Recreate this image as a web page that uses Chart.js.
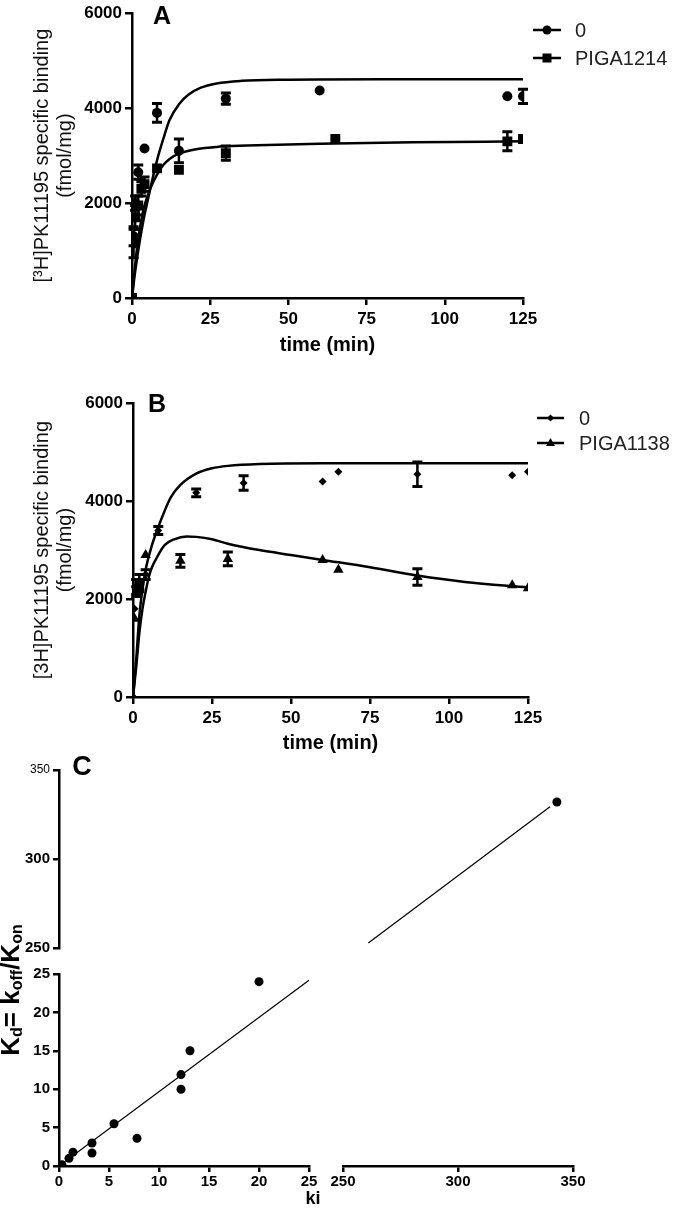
<!DOCTYPE html>
<html><head><meta charset="utf-8">
<script src="https://cdn.jsdelivr.net/npm/chart.js@4.4.1/dist/chart.umd.min.js"></script>
<style>
html,body{margin:0;padding:0;background:#fff;}
body{width:675px;height:1209px;position:relative;overflow:hidden;}
canvas{position:absolute;left:0;}
</style></head><body>
<canvas id="cA" width="675" height="390" style="top:0px"></canvas>
<canvas id="cB" width="675" height="380" style="top:390px"></canvas>
<canvas id="cC" width="675" height="469" style="top:740px"></canvas>
<script>
const FONT = "'Liberation Sans', Arial, Helvetica, sans-serif";

// ---------- Panel A data ----------
const aTicksX = [0, 25, 50, 75, 100, 125];
const aTicksY = [0, 2000, 4000, 6000];
const aLabels = ['0', 'PIGA1214'];
const aT0 = [0, 0.5, 1, 2, 4, 8, 15, 30, 60, 120, 125];
const aY0 = [0, 1300, 2000, 2650, 3150, 3900, 3100, 4200, 4370, 4250, 4250];
const aE0 = [0, 200, 150, 150, 0, 200, 250, 120, 0, 0, 150];
const aTP = [0, 0.5, 1, 2, 3, 4, 8, 15, 30, 65, 120, 125];
const aYP = [0, 1150, 1700, 1950, 2300, 2400, 2730, 2700, 3050, 3350, 3300, 3350];
const aEP = [0, 300, 250, 200, 150, 150, 0, 0, 150, 0, 200, 0];
const aFit0T = [0, 1, 2, 3, 4, 5, 6, 8, 10, 12, 15, 18, 22, 27, 35, 50, 80, 125];
const aFit0Y = [0, 550, 1000, 1400, 1750, 2050, 2350, 2900, 3350, 3750, 4080, 4280, 4430, 4520, 4575, 4600, 4610, 4610];
const aFitPT = [0, 1, 2, 3, 4, 5, 6, 8, 10, 12, 15, 20, 28, 40, 60, 90, 125];
const aFitPY = [0, 700, 1250, 1650, 1950, 2150, 2330, 2600, 2800, 2930, 3040, 3130, 3190, 3220, 3250, 3280, 3300];

// ---------- Panel B data ----------
const bTicksX = [0, 25, 50, 75, 100, 125];
const bTicksY = [0, 2000, 4000, 6000];
const bLabels = ['0', 'PIGA1138'];
const bT0 = [0, 0.5, 1, 2, 4, 8, 20, 35, 60, 65, 90, 120, 125];
const bY0 = [0, 1800, 2150, 2250, 2500, 3400, 4170, 4370, 4400, 4600, 4550, 4530, 4600];
const bE0 = [0, 0, 100, 100, 100, 80, 80, 150, 0, 0, 250, 0, 0];
const bTP = [0, 0.5, 1, 2, 4, 15, 30, 60, 65, 90, 120, 125];
const bYP = [0, 1600, 2250, 2350, 2900, 2780, 2820, 2800, 2600, 2450, 2280, 2220];
const bEP = [0, 0, 150, 150, 0, 130, 140, 0, 0, 170, 0, 0];
const bFit0T = [0, 1, 2, 3, 4, 6, 8, 10, 12, 15, 20, 25, 30, 40, 60, 125];
const bFit0Y = [0, 750, 1650, 2200, 2600, 3100, 3470, 3800, 4080, 4330, 4560, 4670, 4720, 4760, 4775, 4775];
const bFitPT = [0, 1, 2, 3, 4, 5, 6, 8, 10, 13, 17, 20, 25, 30, 40, 50, 60, 75, 90, 105, 125];
const bFitPY = [0, 600, 1300, 1800, 2150, 2450, 2650, 2900, 3100, 3220, 3280, 3270, 3220, 3130, 3000, 2900, 2800, 2650, 2480, 2350, 2240];

// ---------- Panel C data ----------
const cTicksXLow = [0, 5, 10, 15, 20, 25];
const cTicksXHigh = [250, 300, 350];
const cTicksYLow = [0, 5, 10, 15, 20, 25];
const cTicksYHigh = [250, 300, 350];
const cLowX = [0.3, 1.0, 1.4, 3.3, 3.3, 5.5, 7.8, 12.2, 12.2, 13.1, 20.0];
const cLowY = [0.15, 1.0, 1.8, 3.0, 1.7, 5.5, 3.6, 11.9, 10.0, 15.0, 24.0];
const cHighX = [343];
const cHighY = [332];
const cFitLowX = [0.4, 25];
const cFitLowY = [0.4, 24.2];
const cFitHighX = [261, 340];
const cFitHighY = [252.8, 329.3];

function pts(xs, ys) { return xs.map((x, i) => ({x: x, y: ys[i]})); }
function fixedTicks(arr) { return function (scale) { scale.ticks = arr.map(v => ({value: v})); }; }

function drawMarker(ctx, style, x, y, r) {
  ctx.save();
  ctx.fillStyle = '#000';
  ctx.beginPath();
  if (style === 'circle') {
    ctx.arc(x, y, r, 0, Math.PI * 2);
  } else if (style === 'rect') {
    ctx.rect(x - r, y - r, 2 * r, 2 * r);
  } else if (style === 'rectRot') {
    ctx.moveTo(x, y - r); ctx.lineTo(x + r, y); ctx.lineTo(x, y + r); ctx.lineTo(x - r, y); ctx.closePath();
  } else if (style === 'triangle') {
    ctx.moveTo(x, y - r); ctx.lineTo(x + r * 0.9, y + r * 0.6); ctx.lineTo(x - r * 0.9, y + r * 0.6); ctx.closePath();
  }
  ctx.fill();
  ctx.restore();
}

const errPlugin = {
  id: 'errBars',
  afterDatasetsDraw(chart) {
    const ctx = chart.ctx;
    chart.data.datasets.forEach((ds, i) => {
      if (!ds.errs) return;
      const meta = chart.getDatasetMeta(i);
      const xs = chart.scales[meta.xAxisID], ys = chart.scales[meta.yAxisID];
      ds.data.forEach((p, j) => {
        const e = ds.errs[j];
        if (!e) return;
        const px = xs.getPixelForValue(p.x);
        const t = ys.getPixelForValue(p.y + e), b = ys.getPixelForValue(p.y - e);
        ctx.save();
        ctx.strokeStyle = '#000';
        ctx.lineWidth = 2.5;
        ctx.beginPath(); ctx.moveTo(px, t); ctx.lineTo(px, b); ctx.stroke();
        ctx.lineWidth = 3;
        ctx.beginPath();
        ctx.moveTo(px - 5, t); ctx.lineTo(px + 5, t);
        ctx.moveTo(px - 5, b); ctx.lineTo(px + 5, b);
        ctx.stroke();
        ctx.restore();
      });
    });
  }
};

const legendPlugin = {
  id: 'seriesLegend',
  afterDraw(chart, args, opts) {
    if (!opts || !opts.items) return;
    const ctx = chart.ctx;
    ctx.save();
    opts.items.forEach(it => {
      const ds = chart.data.datasets[it.ds];
      ctx.strokeStyle = '#000'; ctx.lineWidth = 2.5;
      ctx.beginPath(); ctx.moveTo(opts.x0, it.y); ctx.lineTo(opts.x1, it.y); ctx.stroke();
      drawMarker(ctx, ds.pointStyle, (opts.x0 + opts.x1) / 2, it.y, it.r);
      ctx.fillStyle = '#222';
      ctx.font = '20px ' + FONT;
      ctx.textBaseline = 'middle'; ctx.textAlign = 'left';
      ctx.fillText(ds.label, opts.tx, it.y + 1);
    });
    ctx.restore();
  }
};

const textPlugin = {
  id: 'panelText',
  afterDraw(chart, args, opts) {
    if (!opts || !opts.items) return;
    const ctx = chart.ctx;
    ctx.save();
    opts.items.forEach(it => {
      ctx.fillStyle = '#000';
      ctx.font = it.font;
      ctx.textAlign = 'center'; ctx.textBaseline = 'middle';
      ctx.fillText(it.text, it.x, it.y);
    });
    if (opts.kd) {
      const k = opts.kd;
      ctx.translate(k.x, k.y);
      ctx.rotate(-Math.PI / 2);
      const main = 'bold 26px ' + FONT, sub = 'bold 16px ' + FONT;
      const pieces = [['K', 0], ['d', 1], ['= k', 0], ['off', 1], ['/K', 0], ['on', 1]];
      let total = 0;
      pieces.forEach(p => { ctx.font = p[1] ? sub : main; total += ctx.measureText(p[0]).width; });
      let x = -total / 2;
      ctx.textAlign = 'left'; ctx.textBaseline = 'middle';
      pieces.forEach(p => {
        ctx.font = p[1] ? sub : main;
        ctx.fillText(p[0], x, p[1] ? 6 : 0);
        x += ctx.measureText(p[0]).width;
      });
    }
    ctx.restore();
  }
};

Chart.register(errPlugin, legendPlugin, textPlugin);

const tickFont = {family: FONT, size: 17, weight: 'bold'};
function kinAxis(isX, ticksArr, min, max, fitSize, title, titlePad) {
  return {
    type: 'linear', min: min, max: max,
    afterBuildTicks: fixedTicks(ticksArr),
    afterFit: isX ? (s => { s.height = fitSize; }) : (s => { s.width = fitSize; }),
    ticks: {font: tickFont, color: '#000', padding: isX ? 4 : 3, autoSkip: false, maxRotation: 0, callback: v => String(v)},
    grid: {display: true, drawOnChartArea: false, drawTicks: true, tickLength: 7, color: '#000', lineWidth: 2.5},
    border: {display: true, color: '#000', width: 2.5},
    title: isX
      ? {display: true, text: title, color: '#000', font: {family: FONT, size: 20, weight: 'bold', lineHeight: 1.2}, padding: {top: 0, bottom: titlePad}}
      : {display: true, text: title, color: '#111', font: {family: FONT, size: 20, weight: 'normal', lineHeight: 1.15}, padding: {top: titlePad, bottom: 0}}
  };
}

function kinChart(id, o) {
  return new Chart(document.getElementById(id), {
    type: 'scatter',
    data: {
      datasets: [
        {label: o.labels[0], data: pts(o.t0, o.y0), errs: o.e0, pointStyle: o.s0, pointRadius: o.r0, backgroundColor: '#000', borderColor: '#000', borderWidth: 0, showLine: false},
        {label: o.labels[1], data: pts(o.tP, o.yP), errs: o.eP, pointStyle: o.sP, pointRadius: o.rP, backgroundColor: '#000', borderColor: '#000', borderWidth: 0, showLine: false},
        {label: 'fit0', data: pts(o.f0t, o.f0y), showLine: true, pointRadius: 0, borderColor: '#000', borderWidth: 2.5, cubicInterpolationMode: 'monotone', fill: false},
        {label: 'fitP', data: pts(o.fPt, o.fPy), showLine: true, pointRadius: 0, borderColor: '#000', borderWidth: 2.5, cubicInterpolationMode: 'monotone', fill: false}
      ]
    },
    options: {
      responsive: false, animation: false, devicePixelRatio: 1,
      layout: {padding: o.pad},
      scales: {
        x: kinAxis(true, o.ticksX, 0, 125, o.xH, 'time (min)', o.xTitlePad),
        y: kinAxis(false, o.ticksY, 0, 6000, o.yW, o.yTitle, 30.5)
      },
      plugins: {
        legend: {display: false}, tooltip: {enabled: false},
        seriesLegend: o.legend,
        panelText: {items: [o.letter]}
      }
    }
  });
}

kinChart('cA', {
  labels: aLabels, t0: aT0, y0: aY0, e0: aE0, tP: aTP, yP: aYP, eP: aEP,
  s0: 'circle', r0: 5, sP: 'rect', rP: 7,
  f0t: aFit0T, f0y: aFit0Y, fPt: aFitPT, fPy: aFitPY,
  ticksX: aTicksX, ticksY: aTicksY,
  pad: {left: 0, right: 152, top: 10, bottom: 0},
  xH: 92, yW: 132, xTitlePad: 33,
  yTitle: ['[\u00B3H]PK11195 specific binding', '(fmol/mg)'],
  legend: {x0: 533, x1: 561, tx: 575, items: [{ds: 0, y: 30, r: 4.5}, {ds: 1, y: 58, r: 4.5}]},
  letter: {text: 'A', x: 162, y: 17, font: 'bold 25px ' + FONT}
});

kinChart('cB', {
  labels: bLabels, t0: bT0, y0: bY0, e0: bE0, tP: bTP, yP: bYP, eP: bEP,
  s0: 'rectRot', r0: 4, sP: 'triangle', rP: 6,
  f0t: bFit0T, f0y: bFit0Y, fPt: bFitPT, fPy: bFitPY,
  ticksX: bTicksX, ticksY: bTicksY,
  pad: {left: 0, right: 147, top: 13, bottom: 0},
  xH: 73, yW: 133, xTitlePad: 15,
  yTitle: ['[3H]PK11195 specific binding', '(fmol/mg)'],
  legend: {x0: 537, x1: 564, tx: 579, items: [{ds: 0, y: 28, r: 3.5}, {ds: 1, y: 53, r: 5}]},
  letter: {text: 'B', x: 157, y: 15, font: 'bold 25px ' + FONT}
});

// ---------- Panel C (broken axes via stacked scales) ----------
const cTickFont = {family: FONT, size: 15, weight: 'bold'};
function cAxis(isX, ticksArr, min, max, stackW, weight) {
  return {
    type: 'linear', min: min, max: max, stack: isX ? 'xs' : 'ys', stackWeight: stackW, weight: weight,
    position: isX ? 'bottom' : 'left',
    afterBuildTicks: fixedTicks(ticksArr),
    afterFit: isX ? (s => { s.height = 43; }) : (s => { s.width = 59; }),
    ticks: {
      font: (ctx) => (!isX && ctx.tick && ctx.tick.value === 350) ? {family: FONT, size: 12, weight: 'normal'} : cTickFont,
      color: '#000', padding: isX ? 1 : 3, autoSkip: false, maxRotation: 0, callback: v => String(v)
    },
    grid: {display: true, drawOnChartArea: false, drawTicks: true, tickLength: 6, color: '#000', lineWidth: 2.5},
    border: {display: true, color: '#000', width: 2.5}
  };
}

new Chart(document.getElementById('cC'), {
  type: 'scatter',
  data: {
    datasets: [
      {data: pts(cLowX, cLowY), xAxisID: 'x1', yAxisID: 'y1', pointRadius: 4.5, pointStyle: 'circle', backgroundColor: '#000', borderWidth: 0, showLine: false},
      {data: pts(cHighX, cHighY), xAxisID: 'x2', yAxisID: 'y2', pointRadius: 4.5, pointStyle: 'circle', backgroundColor: '#000', borderWidth: 0, showLine: false},
      {data: pts(cFitLowX, cFitLowY), xAxisID: 'x1', yAxisID: 'y1', showLine: true, pointRadius: 0, borderColor: '#000', borderWidth: 1.2, fill: false},
      {data: pts(cFitHighX, cFitHighY), xAxisID: 'x2', yAxisID: 'y2', showLine: true, pointRadius: 0, borderColor: '#000', borderWidth: 1.2, fill: false}
    ]
  },
  options: {
    responsive: false, animation: false, devicePixelRatio: 1,
    layout: {padding: {left: 0, right: 102, top: 30, bottom: 0}},
    scales: {
      x1: cAxis(true, cTicksXLow, 0, 25, 250, 1),
      xg: {type: 'linear', position: 'bottom', stack: 'xs', stackWeight: 34, weight: 2, display: false},
      x2: cAxis(true, cTicksXHigh, 250, 350, 230, 3),
      y1: cAxis(false, cTicksYLow, 0, 25, 192, 1),
      yg: {type: 'linear', position: 'left', stack: 'ys', stackWeight: 26, weight: 2, display: false},
      y2: cAxis(false, cTicksYHigh, 250, 350, 178, 3)
    },
    plugins: {
      legend: {display: false}, tooltip: {enabled: false},
      panelText: {
        items: [
          {text: 'C', x: 82, y: 28, font: 'bold 27px ' + FONT},
          {text: 'ki', x: 313, y: 459, font: 'bold 18px ' + FONT}
        ],
        kd: {x: 12, y: 250}
      }
    }
  }
});
</script>
</body></html>
